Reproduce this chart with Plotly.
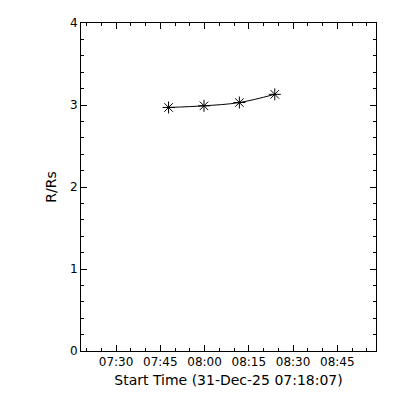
import plotly.graph_objects as go

times = ["2025-12-31 07:47:48", "2025-12-31 07:59:48", "2025-12-31 08:11:48", "2025-12-31 08:23:48"]
r_rs = [2.97, 2.99, 3.03, 3.13]
x_range = ["2025-12-31 07:18:07", "2025-12-31 08:58:07"]
x_ticks = ["2025-12-31 07:30", "2025-12-31 07:45", "2025-12-31 08:00",
           "2025-12-31 08:15", "2025-12-31 08:30", "2025-12-31 08:45"]
x_ticklabels = ["07:30", "07:45", "08:00", "08:15", "08:30", "08:45"]

font = dict(family="DejaVu Sans", size=12, color="black")

fig = go.Figure()
fig.add_trace(go.Scatter(
    x=times, y=r_rs, mode="lines+markers",
    line=dict(color="black", width=1, shape="spline"),
    marker=dict(symbol="asterisk-open", size=10, color="black",
                line=dict(color="black", width=1)),
    showlegend=False,
))

fig.update_layout(
    width=400, height=400,
    margin=dict(l=73, r=32, t=15, b=57),
    paper_bgcolor="white", plot_bgcolor="white",
    font=font,
)
fig.update_xaxes(
    type="date", range=x_range,
    tickvals=x_ticks, ticktext=x_ticklabels,
    ticks="inside", ticklen=6, tickcolor="black",
    showline=True, linecolor="black", linewidth=1, mirror="allticks",
    showgrid=False, zeroline=False, automargin=False,
    minor=dict(dtick=5 * 60 * 1000, tick0="2025-12-31 07:30", ticks="inside",
               ticklen=3, tickcolor="black", showgrid=False),
    title=dict(text="Start Time (31-Dec-25 07:18:07)", standoff=6),
    tickfont=font,
)
fig.update_yaxes(
    range=[0, 4], tickvals=[0, 1, 2, 3, 4],
    ticks="inside", ticklen=6, tickcolor="black",
    showline=True, linecolor="black", linewidth=1, mirror="allticks",
    showgrid=False, zeroline=False, automargin=False,
    minor=dict(dtick=0.2, ticks="inside", ticklen=3, tickcolor="black", showgrid=False),
    title=dict(text="R/Rs", standoff=10),
    tickfont=font,
)

fig.write_html("out.html")
